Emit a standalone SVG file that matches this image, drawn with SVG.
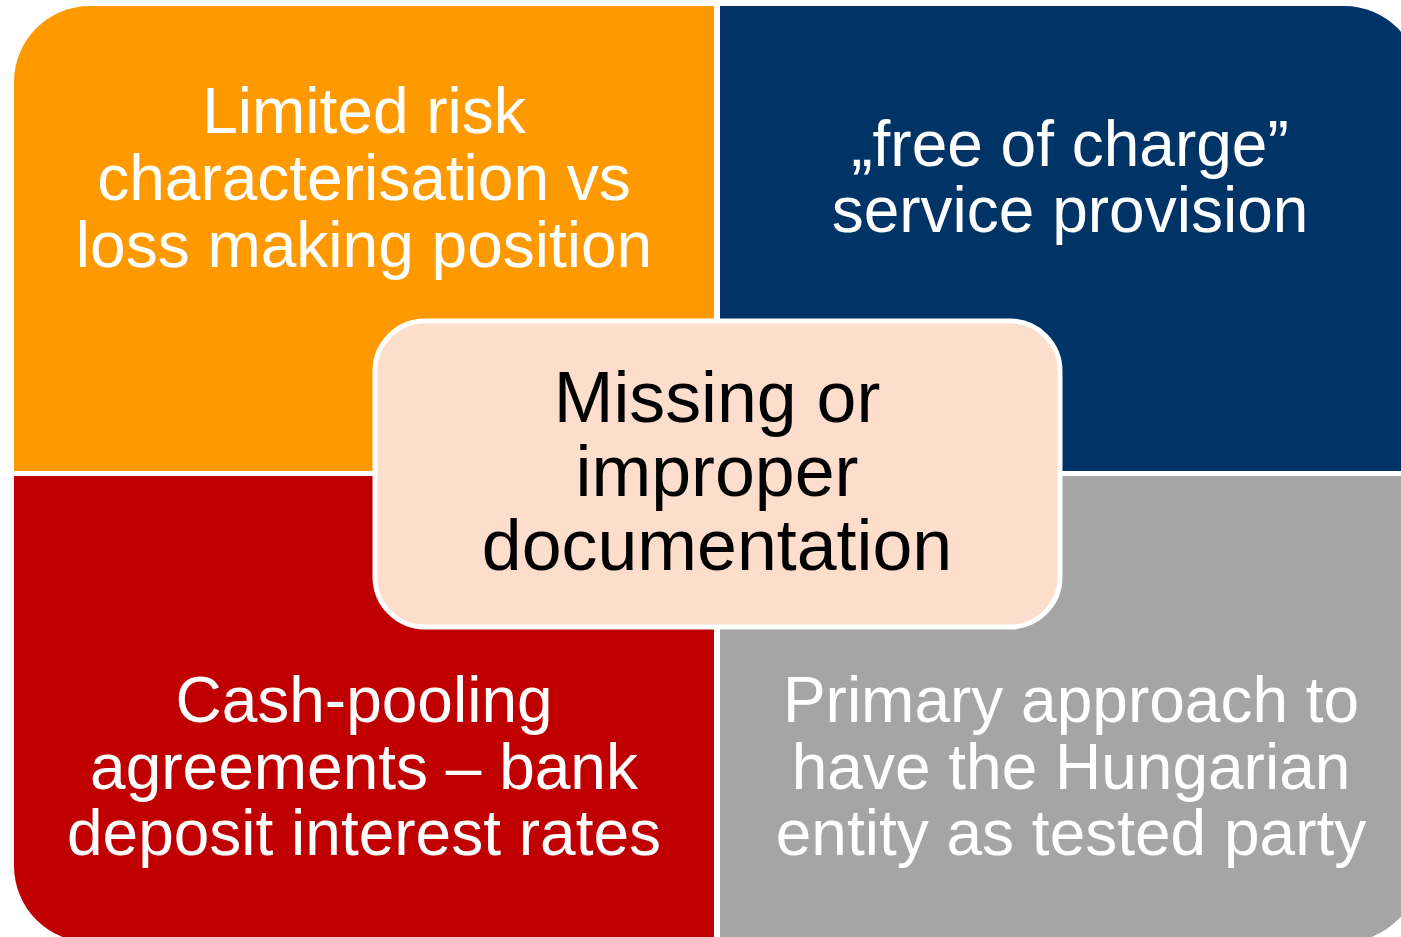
<svg xmlns="http://www.w3.org/2000/svg" width="1401" height="937" viewBox="0 0 1401 937">
<style>
.q{font-family:"Liberation Sans",Arial,sans-serif;font-size:64px;fill:#ffffff;text-anchor:middle}
.c{font-family:"Liberation Sans",Arial,sans-serif;font-size:71.7px;fill:#000000;text-anchor:middle}
</style>
<rect width="1401" height="937" fill="#ffffff"/>
<g id="node-tl">
<path d="M14,471 L14,82 A76,76 0 0 1 90,6 L714,6 L714,471 Z" fill="#FF9900"/>
<text class="q" x="364" y="133">Limited risk</text>
<text class="q" x="364" y="200">characterisation vs</text>
<text class="q" x="364" y="267">loss making position</text>
</g>
<g id="node-tr">
<path d="M720,6 L1344,6 A76,76 0 0 1 1420,82 L1420,471 L720,471 Z" fill="#003366"/>
<text class="q" x="1070" y="166">„free of charge”</text>
<text class="q" x="1070" y="232">service provision</text>
</g>
<g id="node-bl">
<path d="M14,476 L714,476 L714,942 L90,942 A76,76 0 0 1 14,866 Z" fill="#C00000"/>
<text class="q" x="364" y="722">Cash-pooling</text>
<text class="q" x="364" y="789">agreements – bank</text>
<text class="q" x="364" y="855">deposit interest rates</text>
</g>
<g id="node-br">
<path d="M720,476 L1420,476 L1420,866 A76,76 0 0 1 1344,942 L720,942 Z" fill="#A5A5A5"/>
<text class="q" x="1071" y="722">Primary approach to</text>
<text class="q" x="1071" y="789">have the Hungarian</text>
<text class="q" x="1071" y="855">entity as tested party</text>
</g>
<g id="node-center">
<rect x="375" y="321" width="685" height="306" rx="50" ry="50" fill="#FDDDCB" stroke="#ffffff" stroke-width="5"/>
<text class="c" x="717" y="422">Missing or</text>
<text class="c" x="717" y="496">improper</text>
<text class="c" x="717" y="570">documentation</text>
</g>
<g id="connectors"></g>
</svg>
